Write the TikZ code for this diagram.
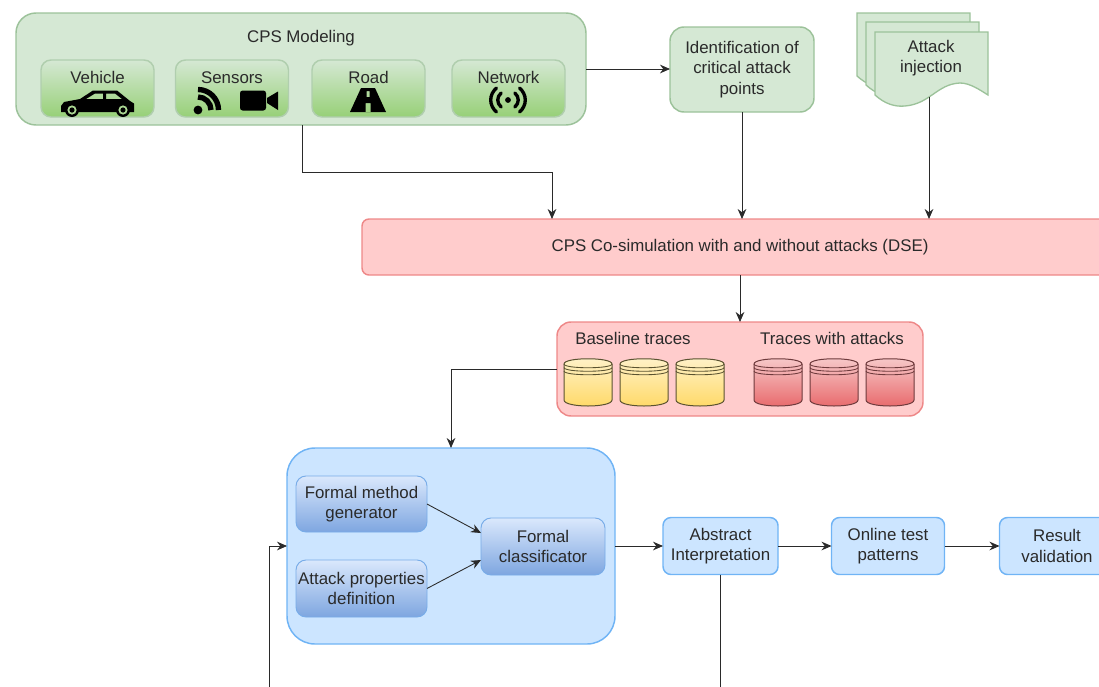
\documentclass[tikz,border=0pt]{standalone}
\usepackage{fontspec}
\setmainfont{Liberation Sans}
\usetikzlibrary{arrows.meta}
\definecolor{grfill}{HTML}{D5E8D4}
\definecolor{grline}{HTML}{9CC29A}
\definecolor{grbot}{HTML}{97D077}
\definecolor{rdfill}{HTML}{FFCCCC}
\definecolor{rdline}{HTML}{EE8888}
\definecolor{blfill}{HTML}{CCE5FF}
\definecolor{blline}{HTML}{70B4F5}
\definecolor{bltop}{HTML}{DAE8FC}
\definecolor{blbot}{HTML}{7EA6E0}
\definecolor{ink}{HTML}{2A2A2A}
\definecolor{cylyel}{HTML}{FFD966}
\definecolor{cylred}{HTML}{E8686A}
\definecolor{cylyelline}{HTML}{5A5230}
\definecolor{cylredline}{HTML}{6E3A3C}
\def\px{0.75pt}
\tikzset{
  base/.style={inner sep=0pt,outer sep=0pt,align=center,text=ink,line width=1.1pt,
    font=\fontsize{12.65}{15.4}\selectfont},
  lab/.style={base},
  dim/.style 2 args={minimum width=#1*\px,minimum height=#2*\px},
  greenbox/.style={base,draw=grline,fill=grfill},
  greengrad/.style={base,draw=grline!80!white,top color=grfill,bottom color=grbot,rounded corners=10*\px},
  redbox/.style={base,draw=rdline,fill=rdfill},
  bluebox/.style={base,draw=blline,fill=blfill},
  bluegrad/.style={base,draw=blline!40!blbot,line width=0.7pt,top color=bltop,bottom color=blbot,rounded corners=10*\px},
  conn/.style={draw=ink,line width=0.65pt,-{Stealth[length=7.5pt,width=6.5pt]}},
  plainconn/.style={draw=ink,line width=0.65pt},
  icon/.style={fill=black,draw=none},
}
\newcommand{\dbcyl}[3]{%
  \begin{scope}[shift={(#1,0)}]
    \path[top color=#2!35!white,bottom color=#2,draw=#3,line width=0.75pt]
      (0,364) .. controls (0,357) and (48,357) .. (48,364) -- (48,400)
      .. controls (48,408) and (0,408) .. (0,400) -- cycle;
    \foreach \d in {0,3.5,7}
      \draw[#3,line width=0.65pt] (0,364+\d) .. controls (0,369+\d) and (48,369+\d) .. (48,364+\d);
  \end{scope}}
\newcommand{\docshape}[2]{%
  \begin{scope}[shift={(#1,#2)}]
    \path[draw=grline,fill=grfill,line width=1pt] (0,0) -- (113,0) -- (113,63)
      .. controls (105,58) and (95,51) .. (85,51)
      .. controls (62,52) and (55,72) .. (30,74)
      .. controls (20,75) and (10,72) .. (0,63) -- cycle;
  \end{scope}}
\begin{document}
\begin{tikzpicture}[x=0.75pt,y=-0.75pt]
\useasboundingbox (0,0) rectangle (1099,686);
\clip (0,0) rectangle (1099,686);

% CPS Modeling group
\node[greenbox,dim={570}{112},rounded corners=20*\px] (cps) at (301,69) {};
\node[lab] (cpst) at (301,38.5) {CPS Modeling};
\node[greengrad,dim={113}{57}] (veh) at (97.5,88.5) {};
\node[greengrad,dim={113}{57}] (sen) at (232,88.5) {};
\node[greengrad,dim={113}{57}] (roa) at (368.5,88.5) {};
\node[greengrad,dim={113}{57}] (net) at (508.5,88.5) {};
\node[lab] (veht) at (97.5,77.5) {Vehicle};
\node[lab] (sent) at (232,77.5) {Sensors};
\node[lab] (roat) at (368.5,77.5) {Road};
\node[lab] (nett) at (508.5,77.5) {Network};

% car icon
\path[icon,even odd rule] (61,106) -- (64,102) -- (80,99) -- (93,90.5) -- (117,90.5) -- (130,101) -- (134,103.5) -- (134,112) -- (61,112) -- cycle
  (86,99) -- (95,93.5) -- (103,93.5) -- (103,99) -- cycle
  (106,93.5) -- (115,93.5) -- (122,99) -- (106,99) -- cycle;
\foreach \wx in {72,123}{
  \fill[black] (\wx,110) circle[radius=7*\px];
  \fill[grbot!70!grfill] (\wx,110) circle[radius=4.6*\px];
  \fill[black] (\wx,110) circle[radius=2.6*\px];
}
% wifi icon
\fill[black] (198,110) circle[radius=4.4*\px];
\draw[black,line width=4pt] (198,97) arc[start angle=90,end angle=0,radius=13*\px];
\draw[black,line width=4pt] (198,89.5) arc[start angle=90,end angle=0,radius=20.5*\px];
% camera icon
\fill[black,rounded corners=2pt] (240,90.5) rectangle (266,110.5);
\path[icon] (267,98) -- (278,91.5) -- (278,110) -- (267,103) -- cycle;
% road icon
\path[icon,even odd rule] (361,88) -- (375,88) -- (386,112) -- (350,112) -- cycle
  (366.5,91) rectangle (369.5,97)
  (365.5,103) rectangle (370.5,112);
% network icon
\fill[black] (508,100) circle[radius=2.9*\px];
\foreach \rr/\hh in {9.5/7,16/12}{
  \draw[black,line width=2.5pt,line cap=round] (508+\rr*0.72,100-\hh) .. controls (508+\rr*1.2,100-\hh*0.45) and (508+\rr*1.2,100+\hh*0.45) .. (508+\rr*0.72,100+\hh);
  \draw[black,line width=2.5pt,line cap=round] (508-\rr*0.72,100-\hh) .. controls (508-\rr*1.2,100-\hh*0.45) and (508-\rr*1.2,100+\hh*0.45) .. (508-\rr*0.72,100+\hh);
}

% critical points
\node[greenbox,dim={144}{85},rounded corners=14*\px] (crit) at (742,69.5) {Identification of\\critical attack\\points};

% attack injection documents
\docshape{857}{13}
\docshape{866}{22}
\docshape{875}{32}
\node[lab] (inj) at (931,58) {Attack\\injection};
\coordinate (injout) at (929,97);

% co-simulation
\node[redbox,dim={756}{56},rounded corners=7*\px] (sim) at (740,247) {CPS Co-simulation with and without attacks (DSE)};

% traces
\node[redbox,dim={366}{94},rounded corners=14*\px] (traces) at (740,369) {};
\node[lab] (bt) at (633,338) {Baseline traces};
\node[lab] (tt) at (832,338) {Traces with attacks};
\dbcyl{564}{cylyel}{cylyelline}
\dbcyl{620}{cylyel}{cylyelline}
\dbcyl{676}{cylyel}{cylyelline}
\dbcyl{754}{cylred}{cylredline}
\dbcyl{810}{cylred}{cylredline}
\dbcyl{866}{cylred}{cylredline}

% formal block
\node[bluebox,dim={328}{196},rounded corners=28*\px] (big) at (451,546) {};
\node[bluegrad,dim={131}{56}] (fm) at (361.5,504) {Formal method\\generator};
\node[bluegrad,dim={131}{57}] (ap) at (361.5,588.5) {Attack properties\\definition};
\node[bluegrad,dim={124}{57}] (fc) at (543,546.5) {Formal\\classificator};
\coordinate (fcu) at (481,533);
\coordinate (fcl) at (481,560);

% processing steps
\node[bluebox,dim={115}{57},rounded corners=8*\px] (abs) at (720.5,546) {Abstract\\Interpretation};
\node[bluebox,dim={113}{57},rounded corners=8*\px] (onl) at (888,546) {Online test\\patterns};
\node[bluebox,dim={115}{57},rounded corners=8*\px] (res) at (1057,546) {Result\\validation};

% free ends
\coordinate (loop) at (269,690);
\coordinate (absend) at (720.5,690);
\coordinate (cpsdown) at (302,125);
\coordinate (simin) at (552,219);
\coordinate (cpsturn) at (302,172);
\coordinate (simturn) at (552,172);

% connectors
\draw[conn] (cps.east) -- (cps.east -| crit.west);
\draw[conn] (cpsdown) -- (cpsturn) -- (simturn) -- (simin);
\draw[conn] (crit.south) -- (crit.south |- sim.north);
\draw[conn] (injout) -- (injout |- sim.north);
\draw[conn] (sim.south) -- (traces.north);
\draw[conn] (traces.west) -| (big.north);
\draw[conn] (loop) |- (big.west);
\draw[conn] (fm.east) -- (fcu);
\draw[conn] (ap.east) -- (fcl);
\draw[conn] (big.east) -- (abs.west);
\draw[conn] (abs.east) -- (onl.west);
\draw[conn] (onl.east) -- (res.west);
\draw[plainconn] (abs.south) -- (absend);
\end{tikzpicture}
\end{document}
